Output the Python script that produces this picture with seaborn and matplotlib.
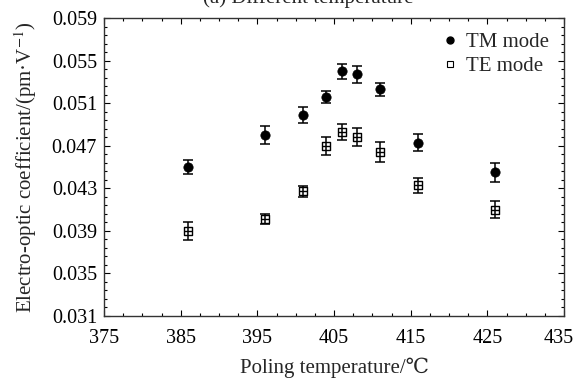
import numpy as np
import matplotlib
matplotlib.use("Agg")
import matplotlib.pyplot as plt
import matplotlib.transforms as mtransforms
from matplotlib.ticker import AutoMinorLocator
import seaborn as sns

# poling temperature (C) and electro-optic coefficient (pm/V)
temp = [386, 396, 401, 404, 406, 408, 411, 416, 426]
tm_val = [0.0450, 0.0480, 0.0499, 0.0516, 0.0540, 0.0537, 0.0523, 0.0473, 0.0445]
tm_err = [0.0007, 0.00087, 0.00078, 0.00055, 0.00072, 0.00083, 0.0006, 0.00078, 0.00089]
te_val = [0.0390, 0.0401, 0.0427, 0.0470, 0.0483, 0.0478, 0.0464, 0.0433, 0.0410]
te_err = [0.00082, 0.00047, 0.00056, 0.00085, 0.00077, 0.00085, 0.00091, 0.0007, 0.00083]

x_ticks = [375, 385, 395, 405, 415, 425, 435]
y_ticks = [0.031, 0.035, 0.039, 0.043, 0.047, 0.051, 0.055, 0.059]

sns.set_theme(style="ticks")
plt.rcParams['font.family'] = ['Liberation Serif', 'DejaVu Serif']
plt.rcParams['mathtext.fontset'] = 'stix'
plt.rcParams['font.size'] = 15

fig = plt.figure(figsize=(5.76, 3.79), dpi=100)
ax = fig.add_axes([0.1806, 0.1662, 0.7986, 0.7863])

# error bars first, markers on top
ax.errorbar(temp, tm_val, yerr=tm_err, fmt='none', ecolor='black', elinewidth=1.1, capsize=3.5, capthick=1.1, zorder=2)
ax.errorbar(temp, te_val, yerr=te_err, fmt='none', ecolor='black', elinewidth=1.1, capsize=3.5, capthick=1.1, zorder=4)
sns.scatterplot(x=temp, y=tm_val, ax=ax, marker='o', s=45, color='black', edgecolor='black', linewidth=0.5, zorder=3)
sns.scatterplot(x=temp, y=te_val, ax=ax, marker='s', s=34, facecolor='white', edgecolor='black', linewidth=1.0, zorder=3)
# the little cross inside the TE squares
ax.scatter(temp, te_val, marker='_', s=34, color='black', linewidth=1.0, zorder=5)

ax.set_xlim(x_ticks[0], x_ticks[-1])
ax.set_ylim(y_ticks[0], y_ticks[-1])
ax.set_xticks(x_ticks)
ax.set_xticklabels([str(t) for t in x_ticks])
ax.set_yticks(y_ticks)
ax.set_yticklabels(['%.3f' % t for t in y_ticks])
ax.xaxis.set_minor_locator(AutoMinorLocator(4))
ax.yaxis.set_minor_locator(AutoMinorLocator(5))
ax.tick_params(which='both', direction='in', top=True, right=True, labelsize=14.5, colors='black', width=0.8)
ax.tick_params(which='major', length=4)
ax.tick_params(axis='y', which='major', pad=5)
ax.tick_params(axis='x', which='major', pad=9)
ax.tick_params(which='minor', length=2.5)
for sp in ax.spines.values():
    sp.set_color('#333333')
    sp.set_linewidth(1.0)

# keep the last x label inside the figure
shift = mtransforms.ScaledTranslation(-4 / 72, 0, fig.dpi_scale_trans)
last = ax.get_xticklabels()[-1]
last.set_transform(last.get_transform() + shift)

ax.set_xlabel('Poling temperature/\u2103', fontsize=15, labelpad=7)
ax.set_ylabel('Electro-optic coefficient/(pm\u00b7V$^{-1}$)', fontsize=15, labelpad=9)

h1 = plt.Line2D([], [], marker='o', ls='none', color='black', markersize=5)
h2 = plt.Line2D([], [], marker='s', ls='none', markerfacecolor='white', markeredgecolor='black', markersize=5, markeredgewidth=0.8)
ax.legend([h1, h2], ['TM mode', 'TE mode'], loc='upper right', frameon=False, fontsize=15,
          handlelength=0.6, handletextpad=0.5, labelspacing=0.2, borderaxespad=0.3)

# panel caption, mostly cut off at the top edge like the source
fig.text(0.535, 0.992, '(a) Different temperature', ha='center', va='baseline', fontsize=15)

fig.savefig('out.png', dpi=100)
